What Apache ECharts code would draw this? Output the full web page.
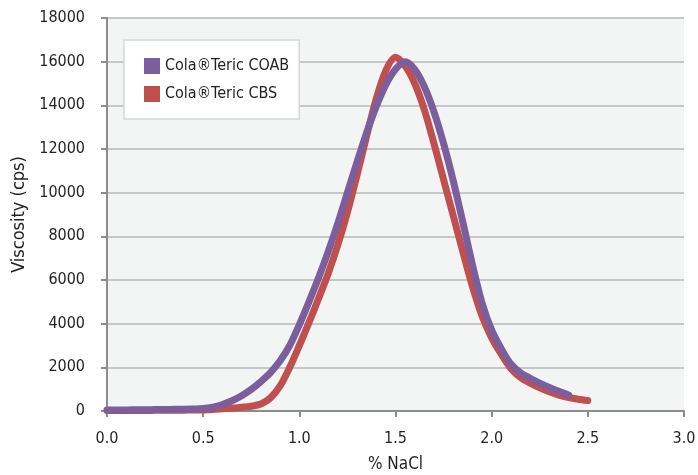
<!DOCTYPE html>
<html>
<head>
<meta charset="utf-8">
<script src="https://cdn.jsdelivr.net/npm/echarts@6/dist/echarts.min.js"></script>
<style>html,body{margin:0;padding:0;background:#fff}#c{width:698px;height:475px}</style>
</head>
<body>
<div id="c"></div>
<script>
// % NaCl (x) and viscosity in cps (y)
const coabX = [0, 0.05, 0.1, 0.15, 0.2, 0.25, 0.3, 0.35, 0.4, 0.45, 0.5, 0.55, 0.6, 0.65, 0.7, 0.75, 0.8, 0.85, 0.9, 0.95, 1.0, 1.05, 1.1, 1.15, 1.2, 1.25, 1.3, 1.35, 1.4, 1.45, 1.5, 1.55, 1.6, 1.65, 1.7, 1.75, 1.8, 1.85, 1.9, 1.95, 2.0, 2.05, 2.1, 2.15, 2.2, 2.25, 2.3, 2.35, 2.4];
const coabY = [50, 50, 50, 55, 60, 65, 70, 75, 80, 90, 110, 180, 300, 470, 700, 990, 1350, 1760, 2300, 3000, 3950, 5000, 6100, 7300, 8600, 10000, 11400, 12750, 13950, 14950, 15650, 16000, 15650, 14850, 13700, 12250, 10550, 8650, 6700, 4950, 3700, 2850, 2150, 1750, 1500, 1280, 1080, 900, 730];
const cbsX = [0, 0.05, 0.1, 0.15, 0.2, 0.25, 0.3, 0.35, 0.4, 0.45, 0.5, 0.55, 0.6, 0.65, 0.7, 0.75, 0.8, 0.85, 0.9, 0.95, 1.0, 1.05, 1.1, 1.15, 1.2, 1.25, 1.3, 1.35, 1.4, 1.45, 1.5, 1.55, 1.6, 1.65, 1.7, 1.75, 1.8, 1.85, 1.9, 1.95, 2.0, 2.05, 2.1, 2.15, 2.2, 2.25, 2.3, 2.35, 2.4, 2.45, 2.5];
const cbsY = [20, 20, 20, 25, 25, 30, 30, 35, 40, 45, 50, 70, 100, 130, 170, 220, 320, 600, 1150, 2000, 3000, 4050, 5150, 6300, 7600, 9100, 10800, 12600, 14300, 15600, 16200, 15800, 15000, 13800, 12250, 10600, 8950, 7300, 5700, 4350, 3350, 2600, 1950, 1530, 1270, 1060, 880, 730, 620, 540, 480];
const seriesNames = ['Cola\u00AETeric COAB', 'Cola\u00AETeric CBS'];
const xTicks = [0, 0.5, 1.0, 1.5, 2.0, 2.5, 3.0];
const yTicks = [0, 2000, 4000, 6000, 8000, 10000, 12000, 14000, 16000, 18000];

const FONT = "'DejaVu Sans Condensed', 'Liberation Sans Narrow', sans-serif";
const TXT = '#231f20';
const pairs = (xs, ys) => xs.map((x, i) => [x, ys[i]]);

const chart = echarts.init(document.getElementById('c'), null, {renderer: 'canvas'});
chart.setOption({
  animation: false,
  textStyle: {fontFamily: FONT, color: TXT},
  grid: {left: 107, right: 14, top: 18, bottom: 64, containLabel: false, outerBoundsMode: 'none',
         show: true, backgroundColor: '#f3f4f4', borderWidth: 0},
  legend: {
    orient: 'vertical', left: 124, top: 40,
    padding: [18, 10, 17, 20], itemGap: 12, itemWidth: 16, itemHeight: 16,
    backgroundColor: '#ffffff', borderColor: '#d6d8d8', borderWidth: 1.5,
    icon: 'rect',
    textStyle: {fontFamily: FONT, fontSize: 16, color: TXT},
    data: seriesNames
  },
  xAxis: {
    type: 'value', min: xTicks[0], max: xTicks[xTicks.length - 1], interval: xTicks[1] - xTicks[0],
    name: '% NaCl', nameLocation: 'middle', nameGap: 45,
    nameTextStyle: {fontFamily: FONT, fontSize: 17, color: TXT},
    axisLine: {lineStyle: {color: '#8c8c8c', width: 2}},
    axisTick: {show: true, length: 6, lineStyle: {color: '#8c8c8c', width: 2}},
    axisLabel: {fontFamily: FONT, fontSize: 16, color: TXT, margin: 20, formatter: v => v.toFixed(1)},
    splitLine: {show: false}
  },
  yAxis: {
    type: 'value', min: yTicks[0], max: yTicks[yTicks.length - 1], interval: yTicks[1] - yTicks[0],
    name: 'Viscosity (cps)', nameLocation: 'middle', nameGap: 78,
    nameTextStyle: {fontFamily: FONT, fontSize: 18, color: TXT},
    axisLine: {show: true, lineStyle: {color: '#8c8c8c', width: 2}},
    axisTick: {show: true, length: 6, lineStyle: {color: '#8c8c8c', width: 2}},
    axisLabel: {fontFamily: FONT, fontSize: 16, color: TXT, margin: 22, formatter: v => String(v)},
    splitLine: {show: true, lineStyle: {color: '#c6c7c8', width: 2}}
  },
  series: [
    {
      name: seriesNames[1], type: 'line', data: pairs(cbsX, cbsY), smooth: 0.3,
      showSymbol: false, symbol: 'none', z: 2,
      itemStyle: {color: '#c0504d'},
      lineStyle: {color: '#c0504d', width: 7, cap: 'round', join: 'round'}
    },
    {
      name: seriesNames[0], type: 'line', data: pairs(coabX, coabY), smooth: 0.3,
      showSymbol: false, symbol: 'none', z: 3,
      itemStyle: {color: '#7b5f9d'},
      lineStyle: {color: '#7b5f9d', width: 7, cap: 'round', join: 'round'}
    }
  ]
});
</script>
</body>
</html>
